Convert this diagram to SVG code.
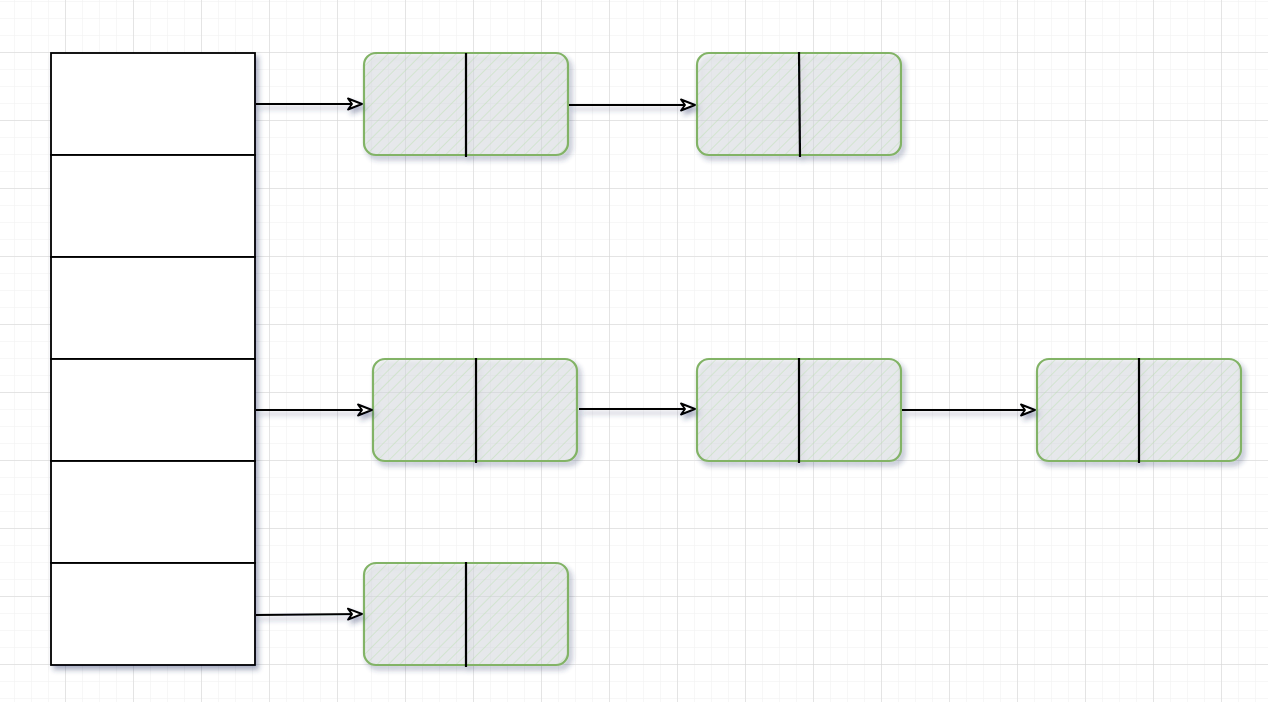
<svg xmlns="http://www.w3.org/2000/svg" width="1268" height="702" viewBox="0 0 1268 702">
<defs>
<pattern id="minor" width="17" height="17" patternUnits="userSpaceOnUse" x="-3" y="1">
<path d="M0 0H17M0 0V17" fill="none" stroke="#f0f0f0" stroke-width="1"/>
</pattern>
<pattern id="major" width="68" height="68" patternUnits="userSpaceOnUse" x="-3" y="-16">
<path d="M0 0H68M0 0V68" fill="none" stroke="#d2d2d2" stroke-width="1"/>
</pattern>
<pattern id="hatch" width="8" height="8" patternUnits="userSpaceOnUse" patternTransform="rotate(45)">
<line x1="0" y1="0" x2="0" y2="8" stroke="#b9dfae" stroke-width="1" opacity="0.85"/>
</pattern>
<filter id="shadow" x="-10%" y="-10%" width="130%" height="140%">
<feGaussianBlur in="SourceAlpha" stdDeviation="2.5"/>
<feOffset dx="3" dy="4" result="b"/>
<feFlood flood-color="#2c3868" flood-opacity="0.4"/>
<feComposite in2="b" operator="in"/>
<feMerge><feMergeNode/><feMergeNode in="SourceGraphic"/></feMerge>
</filter>
<marker id="arr" viewBox="0 0 18 16" markerWidth="18" markerHeight="16" refX="16" refY="8" orient="auto" markerUnits="userSpaceOnUse">
<path d="M2 2.5L16 8L2 13.5L6 8Z" fill="#fff" stroke="#000" stroke-width="1.9" stroke-linejoin="round"/>
</marker>
</defs>
<style>
.cell{fill:#fff;stroke:#000;stroke-width:1.8}
.nodebg{fill:#e4e7ec;fill-opacity:0.42;stroke:none}
.nodeh{fill:url(#hatch);stroke:#82b366;stroke-width:2.2}
.div{stroke:#000;stroke-width:2.2}
.edge{fill:none;stroke:#000;stroke-width:1.8;marker-end:url(#arr)}
</style>
<rect width="1268" height="702" fill="#fff"/>
<rect width="1268" height="702" fill="url(#minor)"/>
<rect width="1268" height="702" fill="url(#major)"/>

<g id="table" filter="url(#shadow)">
<rect class="cell" x="51" y="53" width="204" height="102"/>
<rect class="cell" x="51" y="155" width="204" height="102"/>
<rect class="cell" x="51" y="257" width="204" height="102"/>
<rect class="cell" x="51" y="359" width="204" height="102"/>
<rect class="cell" x="51" y="461" width="204" height="102"/>
<rect class="cell" x="51" y="563" width="204" height="102"/>
</g>

<g id="n1" filter="url(#shadow)">
<rect class="nodebg" x="364" y="53" width="204" height="102" rx="12"/>
<rect class="nodeh" x="364" y="53" width="204" height="102" rx="12"/>
<line class="div" x1="466" y1="53" x2="466" y2="157"/>
</g>
<g id="n2" filter="url(#shadow)">
<rect class="nodebg" x="697" y="53" width="204" height="102" rx="12"/>
<rect class="nodeh" x="697" y="53" width="204" height="102" rx="12"/>
<line class="div" x1="799" y1="52" x2="800" y2="157"/>
</g>
<g id="n3" filter="url(#shadow)">
<rect class="nodebg" x="373" y="359" width="204" height="102" rx="12"/>
<rect class="nodeh" x="373" y="359" width="204" height="102" rx="12"/>
<line class="div" x1="476" y1="358" x2="476" y2="463"/>
</g>
<g id="n4" filter="url(#shadow)">
<rect class="nodebg" x="697" y="359" width="204" height="102" rx="12"/>
<rect class="nodeh" x="697" y="359" width="204" height="102" rx="12"/>
<line class="div" x1="799" y1="358" x2="799" y2="463"/>
</g>
<g id="n5" filter="url(#shadow)">
<rect class="nodebg" x="1037" y="359" width="204" height="102" rx="12"/>
<rect class="nodeh" x="1037" y="359" width="204" height="102" rx="12"/>
<line class="div" x1="1139" y1="358" x2="1139" y2="463"/>
</g>
<g id="n6" filter="url(#shadow)">
<rect class="nodebg" x="364" y="563" width="204" height="102" rx="12"/>
<rect class="nodeh" x="364" y="563" width="204" height="102" rx="12"/>
<line class="div" x1="466" y1="562" x2="466" y2="667"/>
</g>

<g id="edges" filter="url(#shadow)">
<path class="edge" d="M256 104L362 104"/>
<path class="edge" d="M569 105L695 105"/>
<path class="edge" d="M256 410L372 410"/>
<path class="edge" d="M579 409L695 409"/>
<path class="edge" d="M902 410L1035 410"/>
<path class="edge" d="M256 615L362 614"/>
</g>
</svg>
